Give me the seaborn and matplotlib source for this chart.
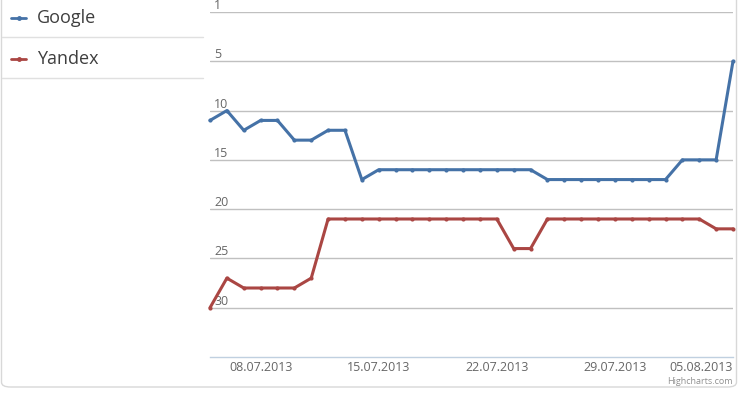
import pandas as pd
import numpy as np
import matplotlib
matplotlib.use('Agg')
import matplotlib.pyplot as plt
from matplotlib.patches import FancyBboxPatch
from matplotlib.lines import Line2D
import seaborn as sns

# ── Data ──────────────────────────────────────────────
dates = pd.date_range('2013-07-05', '2013-08-05', freq='D')
google = [11, 10, 12, 11, 11, 13, 13, 12, 12, 17, 16, 16, 16, 16, 16, 16,
          16, 16, 16, 16, 17, 17, 17, 17, 17, 17, 17, 17, 15, 15, 15, 5]
yandex = [30, 27, 28, 28, 28, 28, 27, 21, 21, 21, 21, 21, 21, 21, 21, 21,
          21, 21, 24, 24, 21, 21, 21, 21, 21, 21, 21, 21, 21, 21, 22, 22]
series_names = ['Google', 'Yandex']
y_ticks = [0, 5, 10, 15, 20, 25, 30]
y_labels = ['1', '5', '10', '15', '20', '25', '30']
x_ticks = ['2013-07-08', '2013-07-15', '2013-07-22', '2013-07-29', '2013-08-05']

# ── Palette ───────────────────────────────────────────
BLUE = '#4572A7'
RED = '#AA4643'
GRID = '#C0C0C0'
AXIS = '#C0D0E0'
LABEL = '#666666'
LEGEND_TXT = '#3E3E3E'

sns.set_style('white')
plt.rcParams['font.family'] = ['Open Sans', 'DejaVu Sans']

fig = plt.figure(figsize=(7.44, 3.98), dpi=100)
W, H = 744, 398
ax = fig.add_axes([210 / W, 1 - 357 / H, 523 / W, 345 / H])

df = pd.DataFrame({'date': list(dates) * 2,
                   'pos': google + yandex,
                   'engine': [series_names[0]] * len(dates) + [series_names[1]] * len(dates)})
sns.lineplot(data=df, x='date', y='pos', hue='engine', palette=[BLUE, RED],
             marker='o', markersize=3, markeredgewidth=0, linewidth=2.2,
             legend=False, ax=ax, zorder=3, clip_on=False)

ax.set_ylim(35, 0)
ax.set_xlim(dates[0], dates[-1])
ax.set_yticks(y_ticks)
ax.set_yticklabels(y_labels)
ax.set_xticks(pd.to_datetime(x_ticks))
ax.set_xticklabels([pd.Timestamp(d).strftime('%d.%m.%Y') for d in x_ticks])
ax.set_xlabel('')
ax.set_ylabel('')

ax.grid(axis='y', color=GRID, linewidth=1)
ax.grid(axis='x', visible=False)
for s in ['top', 'right', 'left']:
    ax.spines[s].set_visible(False)
ax.spines['bottom'].set_color(AXIS)
ax.spines['bottom'].set_linewidth(1)

ax.tick_params(axis='y', length=0, pad=-3, labelsize=9, labelcolor=LABEL)
for t in ax.get_yticklabels():
    t.set_horizontalalignment('left')
    t.set_verticalalignment('bottom')
ax.tick_params(axis='x', length=4, direction='in', color=AXIS, pad=3,
               labelsize=9, labelcolor=LABEL)
xl = ax.get_xticklabels()
xl[-1].set_horizontalalignment('right')

# ── Legend panel ─────────────────────────────────────
for yy in [37, 78]:
    fig.add_artist(Line2D([2 / W, 203 / W], [1 - yy / H] * 2, color='#E0E0E0',
                          linewidth=1, transform=fig.transFigure))
for i, (name, col) in enumerate(zip(series_names, [BLUE, RED])):
    yc = 1 - (18 + 41 * i) / H
    fig.add_artist(Line2D([11 / W, 26 / W], [yc, yc], color=col, linewidth=2,
                          transform=fig.transFigure))
    fig.add_artist(Line2D([18.5 / W], [yc], color=col, marker='o', markersize=2.5,
                          transform=fig.transFigure))
    fig.text(37 / W, yc, name, fontsize=13, color=LEGEND_TXT, va='center', ha='left')

# ── Border & credit ──────────────────────────────────
fig.add_artist(FancyBboxPatch((1.5 / W, 1 - 387 / H), 735 / W, 400 / H,
                              boxstyle='round,pad=0,rounding_size=0.012',
                              transform=fig.transFigure, facecolor='none',
                              edgecolor='#D8D8D8', linewidth=1))
fig.text(733 / W, 1 - 381 / H, 'Highcharts.com', fontsize=6.5, color='#909090',
         ha='right', va='center')

fig.savefig('out.png', dpi=100, facecolor='white')
